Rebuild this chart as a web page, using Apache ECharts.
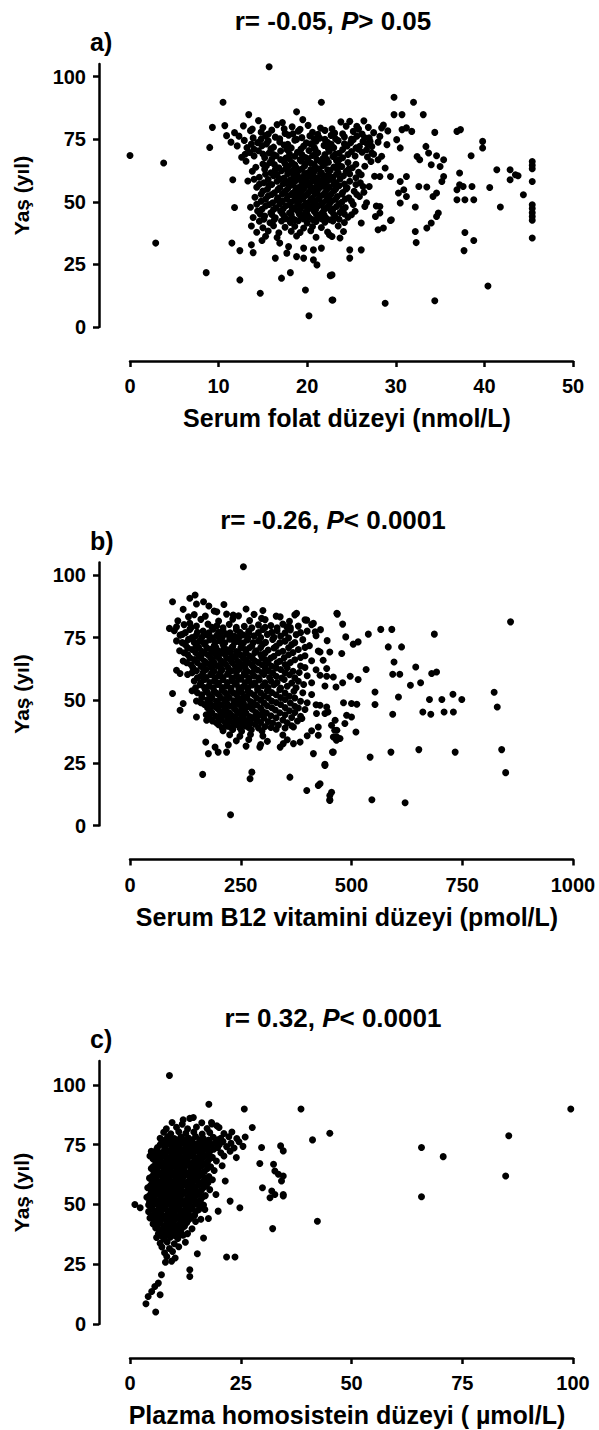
<!DOCTYPE html>
<html>
<head>
<meta charset="utf-8">
<script src="https://cdn.jsdelivr.net/npm/echarts@6/dist/echarts.min.js"></script>
<style>
html,body{margin:0;padding:0;background:#fff;}
#c{width:599px;height:1430px;}
</style>
</head>
<body>
<div id="c"></div>
<script>
// ---------- DATA ----------
const titlesA = ['r= -0.05, ', 'P', '> 0.05'];
const titlesB = ['r= -0.26, ', 'P', '< 0.0001'];
const titlesC = ['r= 0.32, ', 'P', '< 0.0001'];
const panelLetters = ['a)', 'b)', 'c)'];
const xNames = ['Serum folat düzeyi (nmol/L)', 'Serum B12 vitamini düzeyi (pmol/L)', 'Plazma homosistein düzeyi ( µmol/L)'];
const yName = 'Yaş (yıl)';
const yTicks = [0, 25, 50, 75, 100];
const xRanges = [[0, 50, 10], [0, 1000, 250], [0, 100, 25]];
const yMax = [105, 105, 110];

// Panel a: serum folate (nmol/L) vs age
const folatCore = [
[14.5,82.4],[17.2,81.6],[19.5,82.8],[23.8,81.9],[26.4,82.3],
[12.8,80.3],[15.0,79.6],[16.6,80.8],[18.3,79.9],[20.1,80.5],[21.5,79.4],[24.4,80.2],[26.9,79.7],[28.6,80.6],
[11.8,77.6],[13.6,78.4],[14.8,77.8],[16.0,78.6],[17.5,77.3],[19.0,78.2],[20.6,77.7],[22.0,78.5],[23.1,77.4],[25.2,78.1],[27.5,77.6],[29.1,78.3],
[12.3,76.2],[13.9,75.5],[15.3,76.4],[16.4,75.8],[17.9,76.6],[19.4,75.6],[20.3,76.3],[21.4,75.4],[22.7,76.5],[24.2,75.9],[25.6,76.2],[27.0,75.5],
[11.4,73.8],[12.9,74.5],[14.4,73.6],[15.6,74.3],[16.9,73.9],[18.6,74.6],[19.9,73.5],[21.0,74.2],[22.3,73.7],[23.5,74.4],[24.9,73.6],[26.3,74.1],[28.0,73.8],
[12.1,72.3],[13.2,71.6],[14.9,72.4],[16.2,71.8],[17.4,72.6],[18.2,71.5],[19.6,72.2],[20.8,71.7],[21.9,72.5],[23.0,71.6],[24.5,72.3],[25.5,71.5],[27.3,72.1],
[13.5,69.7],[14.5,70.4],[15.7,69.5],[17.0,70.3],[18.9,69.8],[20.2,70.5],[21.2,69.6],[22.5,70.2],[23.6,69.4],[25.0,70.1],[26.2,69.8],
[12.6,67.8],[14.0,68.3],[15.2,67.6],[16.5,68.4],[17.6,67.5],[18.6,68.2],[19.8,67.7],[20.6,68.5],[21.8,67.4],[22.9,68.1],[24.0,67.6],[25.4,68.3],[26.8,67.9],[28.4,68.2],
[13.1,66.2],[15.8,65.7],[17.3,66.4],[18.3,65.6],[19.3,66.3],[20.4,65.5],[21.5,66.1],[22.4,65.8],[23.3,66.5],[24.6,65.7],[27.2,66.1],
[14.2,63.8],[15.4,64.4],[16.8,63.6],[17.9,64.2],[18.8,63.5],[19.7,64.3],[20.9,63.7],[21.8,64.5],[23.0,63.9],[23.9,64.1],[25.1,63.6],[26.5,64.2],
[13.8,62.2],[15.9,61.6],[17.1,62.4],[18.1,61.8],[19.0,62.3],[20.0,61.5],[20.8,62.1],[21.6,61.7],[22.6,62.5],[23.5,61.6],[24.4,62.2],[25.8,61.8],
[14.6,59.8],[16.2,60.4],[17.4,59.5],[18.5,60.2],[19.3,59.7],[20.3,60.5],[21.1,59.6],[22.0,60.3],[22.9,59.8],[24.1,60.4],[25.5,59.6],[27.6,60.2],
[13.3,58.3],[15.1,57.6],[16.6,58.2],[17.8,57.5],[18.7,58.4],[19.6,57.8],[20.5,58.1],[21.4,57.4],[22.3,58.3],[23.2,57.7],[24.8,58.2],[26.0,57.6],
[14.3,55.8],[15.7,56.4],[16.9,55.6],[18.0,56.3],[19.0,55.7],[19.9,56.5],[20.7,55.5],[21.7,56.2],[22.5,55.8],[23.6,56.4],[24.5,55.6],[27.0,56.1],
[15.0,54.3],[16.3,53.6],[17.5,54.2],[18.4,53.5],[19.4,54.4],[20.2,53.8],[21.1,54.1],[22.0,53.6],[23.0,54.3],[24.0,53.7],[25.3,54.2],[26.4,53.8],
[14.1,51.8],[15.6,52.3],[16.7,51.6],[17.8,52.4],[18.8,51.7],[19.7,52.2],[20.6,51.5],[21.5,52.3],[22.4,51.8],[23.4,52.1],[24.7,51.6],
[14.8,50.2],[16.1,49.6],[17.2,50.4],[18.2,49.8],[19.1,50.3],[20.0,49.5],[20.9,50.1],[21.8,49.7],[22.8,50.4],[23.9,49.8],[25.0,50.2],[26.7,49.6],
[13.6,47.8],[15.3,48.3],[16.5,47.6],[17.6,48.4],[18.5,47.5],[19.5,48.2],[20.4,47.8],[21.3,48.5],[22.2,47.6],[23.3,48.1],[24.3,47.7],[27.8,48.3],
[14.4,46.3],[15.9,45.6],[17.0,46.2],[18.0,45.5],[18.9,46.4],[19.8,45.8],[20.8,46.1],[21.7,45.6],[22.7,46.3],[23.7,45.7],[25.4,46.2],
[13.9,43.7],[15.2,44.3],[16.4,43.6],[17.4,44.2],[18.3,43.5],[19.3,44.4],[20.2,43.8],[21.2,44.1],[22.1,43.6],[23.1,44.3],[24.6,43.8],
[14.6,42.2],[15.8,41.6],[17.1,42.3],[18.1,41.7],[19.0,42.4],[20.0,41.5],[21.0,42.1],[22.0,41.8],[22.9,42.3],[24.2,41.7],
[13.7,40.3],[15.0,39.6],[16.2,40.4],[17.5,39.8],[18.6,40.2],[19.6,39.5],[20.6,40.1],[21.6,39.7],[23.5,40.3],
[14.3,37.8],[15.6,38.3],[16.8,37.6],[18.2,38.2],[19.2,37.7],[20.4,38.4],[22.3,37.9],
[15.3,36.2],[16.6,35.7],[18.8,36.3],[21.0,35.8],[22.8,36.1],
[13.8,79.0],[17.4,79.1],[19.2,78.9],[22.8,79.1],[25.8,79.0],
[15.6,77.0],[18.4,77.1],[21.2,76.9],[24.0,77.1],[26.2,77.0],
[14.8,75.0],[16.9,75.1],[18.8,74.9],[20.8,75.1],[22.0,74.9],[23.2,75.1],[25.0,75.0],
[13.7,73.0],[15.4,73.1],[17.8,72.9],[20.4,73.1],[22.7,72.9],[24.2,73.1],[26.8,73.0],
[14.0,71.0],[15.9,71.1],[17.7,70.9],[19.3,71.1],[20.9,70.9],[22.4,71.1],[24.0,70.9],[25.8,71.0],
[13.0,69.0],[15.0,69.1],[16.2,68.9],[18.0,69.1],[19.4,68.9],[21.0,69.1],[22.0,68.9],[23.2,69.1],[24.6,68.9],[27.5,69.0],
[16.0,67.0],[17.0,66.9],[18.0,67.1],[19.2,66.8],[20.1,67.2],[21.1,66.9],[22.2,67.0],[23.6,66.8],
[15.0,65.1],[16.3,64.9],[17.5,65.2],[18.6,64.8],[19.8,65.1],[20.8,64.9],[22.0,65.2],[23.5,64.9],[25.5,65.0],
[15.2,63.0],[16.4,62.9],[17.6,63.2],[18.5,62.8],[19.4,63.1],[20.4,62.9],[21.3,63.2],[22.3,62.8],[23.4,63.0],[24.7,63.1],
[15.3,61.0],[16.6,60.9],[17.8,61.2],[18.8,60.8],[19.7,61.1],[20.6,60.9],[21.5,61.2],[22.4,60.8],[23.3,61.0],[24.8,61.1],
[14.0,59.0],[15.6,58.9],[16.9,59.2],[18.1,58.8],[19.0,59.1],[19.9,58.9],[20.8,59.2],[21.7,58.8],[22.6,59.0],[23.7,59.1],
[14.6,57.0],[16.0,56.9],[17.3,57.2],[18.4,56.8],[19.4,57.1],[20.2,56.9],[21.1,57.2],[22.0,56.8],[23.0,57.0],[24.2,57.1],[25.5,56.9],
[15.5,55.0],[16.7,54.9],[17.8,55.2],[18.7,54.8],[19.6,55.1],[20.4,54.9],[21.3,55.2],[22.2,54.8],[23.2,55.0],[24.4,55.1],
[14.8,53.0],[16.0,52.9],[17.2,53.2],[18.2,52.8],[19.1,53.1],[20.0,52.9],[20.9,53.2],[21.8,52.8],[22.7,53.0],[23.9,53.1],[25.6,52.9],
[15.3,51.0],[16.6,50.9],[17.7,51.2],[18.6,50.8],[19.5,51.1],[20.4,50.9],[21.3,51.2],[22.2,50.8],[23.2,51.0],[24.3,51.1],
[14.3,49.0],[15.7,48.9],[16.9,49.2],[18.0,48.8],[18.9,49.1],[19.8,48.9],[20.7,49.2],[21.6,48.8],[22.5,49.0],[23.6,49.1],[25.2,48.9],
[14.9,47.0],[16.2,46.9],[17.3,47.2],[18.3,46.8],[19.2,47.1],[20.1,46.9],[21.0,47.2],[21.9,46.8],[22.9,47.0],[24.0,47.1],
[14.7,45.0],[16.0,44.9],[17.2,45.2],[18.2,44.8],[19.1,45.1],[20.0,44.9],[21.0,45.2],[21.9,44.8],[23.0,45.0],[24.2,45.1],
[15.1,43.0],[16.3,42.9],[17.6,43.2],[18.6,42.8],[19.6,43.1],[20.6,42.9],[21.6,43.2],[22.6,42.8],[23.6,43.0]
];
const folatOuter = [
[0,68.5],[3.8,65.5],[2.9,33.5],[8.6,21.7],[10.5,89.7],[15.7,103.9],[21.6,89.7],[18.8,85.9],[9.0,71.7],[9.3,79.7],
[10.7,80.4],[10.9,76.4],[13.4,84.8],[11.6,58.8],[11.8,47.7],[11.5,33.5],[12.4,30.5],[12.4,18.8],[14.7,13.5],[20.2,4.5],
[19.8,14.8],[17.1,19.5],[18.1,21.7],[22.8,20.8],[22.9,10.8],[22.5,36.8],[13.7,32.8],[13.9,29.7],[14.9,34.5],[16.4,27.5],
[16.9,33.5],[17.9,32.1],[18.8,28.1],[19.6,27.5],[20.7,26.8],[21.1,24.8],[19.6,31.5],[20.7,30.8],[21.6,31.5],[17.7,29.5],
[29.8,91.7],[32.0,89.7],[29.8,84.8],[30.7,84.8],[33.1,84.8],[34.4,77.7],[36.9,78.1],[37.3,78.8],[39.8,74.1],[39.8,71.5],
[38.5,68.4],[33.4,72.1],[32.4,68.1],[33.7,69.5],[34.6,68.4],[35.4,66.8],[32.7,66.8],[34.0,64.8],[35.0,64.1],[37.2,61.5],
[41.4,62.8],[42.9,62.8],[43.5,60.8],[42.9,58.8],[43.8,60.4],[45.4,66.1],[45.4,64.6],[45.4,63.2],[45.4,58.1],[45.4,48.8],
[45.4,47.3],[45.4,45.6],[45.4,44.1],[45.4,42.6],[45.4,35.5],[44.4,52.8],[41.8,47.9],[40.6,55.7],[37.2,56.8],[37.6,56.1],
[38.6,56.1],[36.9,54.8],[36.9,50.8],[37.8,50.8],[38.8,50.8],[37.8,37.7],[38.8,34.5],[37.7,30.5],[40.4,16.4],[34.4,10.5],
[28.8,9.5],[22.8,10.8],[22.6,20.5],[24.8,30.8],[26.1,30.8],[24.8,27.5],[23.7,35.5],[24.1,38.1],[28.0,38.8],[28.6,39.5],
[29.5,42.8],[32.2,38.1],[32.3,33.7],[33.5,39.5],[34.0,41.5],[34.6,44.1],[34.8,45.5],[32.2,47.9],[32.6,56.1],[33.5,55.9],
[34.2,52.1],[34.6,53.5],[35.4,60.1],[35.2,58.1],[29.4,60.1],[28.2,60.1],[30.5,58.1],[31.2,60.1],[30.3,53.5],[30.9,54.8],
[31.2,52.1],[30.5,49.5],[28.2,48.1],[28.2,45.5],[27.7,44.1],[29.4,42.5],[26.1,41.5],[25.0,44.8],[26.5,48.1],[28.4,79.5],
[30.7,78.8],[31.2,79.5],[31.8,78.1],[30.1,74.8],[30.5,71.5],[29.0,72.8],[28.2,76.1],[27.1,74.1],[26.5,75.5],[27.3,69.5],
[28.0,66.8],[28.8,63.5],[25.9,72.1],[25.2,74.8],[26.7,70.8],[25.6,80.1],[24.8,82.1],[26.1,60.8],[26.3,56.1],[25.9,52.1]
];

// Panel b: serum B12 (pmol/L) vs age
const b12Core = [
[150,88.4],[178,87.6],[212,88.2],
[120,86.3],[190,85.6],[262,86.4],[300,85.8],
[145,84.2],[170,83.6],[218,84.4],[245,83.7],[280,84.3],[330,83.6],[372,84.1],
[108,81.7],[160,82.3],[200,81.6],[232,82.4],[270,81.8],[305,82.2],[360,81.5],[395,82.1],
[122,80.2],[150,79.6],[176,80.4],[196,79.7],[224,80.3],[258,79.5],[290,80.1],[318,79.8],[345,80.4],[380,79.6],[410,80.2],
[100,77.8],[135,78.3],[165,77.6],[188,78.4],[210,77.7],[240,78.2],[268,77.5],[300,78.3],[332,77.8],[362,78.1],[400,77.6],[430,78.2],
[118,76.3],[148,75.6],[172,76.2],[196,75.8],[218,76.4],[236,75.5],[255,76.1],[280,75.7],[310,76.3],[340,75.6],[375,76.2],[420,75.8],
[105,73.7],[132,74.3],[158,73.6],[180,74.2],[202,73.8],[225,74.4],[245,73.5],[265,74.1],[290,73.7],[322,74.3],[350,73.6],[390,74.2],[445,73.8],
[125,72.2],[150,71.6],[168,72.4],[190,71.8],[210,72.3],[232,71.5],[252,72.1],[275,71.7],[300,72.4],[330,71.6],[365,72.2],[405,71.8],
[112,69.8],[140,70.3],[162,69.6],[182,70.4],[200,69.7],[220,70.2],[240,69.5],[260,70.3],[285,69.8],[312,70.1],[345,69.6],[380,70.3],[425,69.7],
[130,68.3],[155,67.6],[176,68.2],[195,67.8],[214,68.4],[234,67.5],[250,68.1],[270,67.7],[295,68.3],[325,67.6],[358,68.2],[395,67.8],
[120,65.7],[145,66.3],[168,65.6],[186,66.2],[205,65.8],[226,66.4],[244,65.5],[262,66.1],[282,65.7],[305,66.3],[338,65.6],[372,66.2],[410,65.8],
[138,64.2],[160,63.6],[180,64.3],[198,63.7],[216,64.4],[238,63.5],[255,64.1],[276,63.8],[298,64.2],[320,63.6],[350,64.3],[385,63.7],
[150,61.8],[172,62.3],[190,61.6],[208,62.2],[228,61.7],[246,62.4],[265,61.5],[288,62.1],[312,61.8],[340,62.3],[368,61.6],[420,62.2],
[130,60.3],[160,59.6],[182,60.2],[200,59.8],[220,60.4],[240,59.5],[258,60.1],[280,59.7],[302,60.3],[330,59.6],[360,60.2],[400,59.8],
[145,57.7],[168,58.3],[190,57.6],[210,58.2],[230,57.8],[250,58.4],[270,57.5],[292,58.1],[318,57.7],[348,58.3],[380,57.6],
[158,56.2],[178,55.6],[198,56.3],[218,55.7],[238,56.4],[256,55.5],[276,56.1],[300,55.8],[325,56.2],[355,55.6],[392,56.3],[440,55.7],
[140,53.8],[170,54.3],[190,53.6],[208,54.2],[228,53.7],[246,54.4],[266,53.5],[288,54.1],[310,53.8],[338,54.2],[370,53.6],
[162,52.2],[182,51.6],[200,52.3],[220,51.7],[240,52.4],[258,51.5],[280,52.1],[302,51.8],[330,52.2],[360,51.6],[410,52.3],
[150,49.7],[175,50.3],[195,49.6],[214,50.2],[234,49.8],[252,50.4],[272,49.5],[295,50.1],[320,49.7],[350,50.3],[385,49.6],
[168,48.3],[188,47.6],[206,48.2],[226,47.7],[246,48.4],[264,47.5],[286,48.1],[310,47.8],[340,48.3],[372,47.6],[420,48.2],
[180,45.8],[200,46.3],[218,45.6],[238,46.2],[256,45.7],[276,46.4],[300,45.5],[328,46.1],[360,45.8],[395,46.3],
[172,44.2],[194,43.6],[212,44.3],[232,43.7],[250,44.4],[270,43.5],[292,44.1],[318,43.8],[350,44.2],[385,43.6],
[186,41.7],[206,42.3],[226,41.6],[244,42.2],[264,41.8],[286,42.4],[312,41.5],[345,42.1],[378,41.7],
[200,40.2],[220,39.6],[240,40.3],[260,39.7],[282,40.4],[305,39.5],[335,40.1],[365,39.8],
[210,37.8],[232,38.3],[252,37.6],[274,38.2],[298,37.7],[330,38.4],[410,37.8],
[225,36.2],[248,35.6],[272,36.3],[300,35.7],[345,36.1],[400,35.8],
[240,33.8],[268,34.3],[310,33.6],[355,34.2],
[222,32.2],[262,31.7],[295,32.3],
[138,79.0],[185,79.1],[210,78.9],[240,79.1],[275,78.9],[305,79.1],[332,78.9],[362,79.0],
[125,77.0],[152,77.1],[178,76.9],[200,77.1],[226,76.9],[248,77.1],[268,76.9],[290,77.0],[320,77.1],[350,76.9],[385,77.0],
[140,75.0],[162,75.1],[186,74.9],[208,75.1],[228,74.9],[246,75.1],[266,74.9],[295,75.0],[325,75.1],[358,74.9],
[118,73.0],[145,73.1],[170,72.9],[192,73.1],[214,72.9],[236,73.1],[256,72.9],[278,73.0],[306,73.1],[338,72.9],[372,73.0],
[130,71.0],[155,71.1],[174,70.9],[194,71.1],[212,70.9],[230,71.1],[250,70.9],[270,71.0],[295,71.1],[325,70.9],[358,71.0],[395,71.1],
[122,69.0],[148,69.1],[168,68.9],[188,69.1],[206,68.9],[226,69.1],[244,68.9],[262,69.0],[282,69.1],[305,68.9],[335,69.0],[368,69.1],
[135,67.0],[160,67.1],[182,66.9],[200,67.1],[218,66.9],[238,67.1],[256,66.9],[276,67.0],[298,67.1],[318,66.9],[348,67.0],[385,67.1],
[128,65.0],[152,65.1],[172,64.9],[190,65.1],[210,64.9],[230,65.1],[248,64.9],[268,65.0],[290,65.1],[312,64.9],[332,65.0],[362,65.1],
[142,63.0],[165,63.1],[185,62.9],[204,63.1],[222,62.9],[242,63.1],[260,62.9],[280,63.0],[305,63.1],[330,62.9],[355,63.0],[395,63.1],
[140,61.0],[165,61.1],[185,60.9],[204,61.1],[222,60.9],[240,61.1],[258,60.9],[276,61.0],[298,61.1],[322,60.9],[350,61.0],[382,61.1],
[152,59.0],[172,59.1],[192,58.9],[210,59.1],[230,58.9],[248,59.1],[268,58.9],[290,59.0],[315,59.1],[342,58.9],[372,59.0],
[160,57.0],[180,57.1],[200,56.9],[220,57.1],[240,56.9],[260,57.1],[282,56.9],[305,57.0],[332,57.1],[365,56.9],[410,57.0],
[148,55.0],[168,55.1],[188,54.9],[208,55.1],[228,54.9],[246,55.1],[266,54.9],[288,55.0],[312,55.1],[340,54.9],[375,55.0],
[152,53.0],[175,53.1],[195,52.9],[214,53.1],[234,52.9],[252,53.1],[272,52.9],[295,53.0],[320,53.1],[350,52.9],[390,53.0],
[162,51.0],[185,51.1],[205,50.9],[224,51.1],[244,50.9],[264,51.1],[286,50.9],[312,51.0],[340,51.1],[372,50.9],
[160,49.0],[180,49.1],[198,48.9],[218,49.1],[238,48.9],[256,49.1],[278,48.9],[302,49.0],[330,49.1],[362,48.9],[400,49.0],
[175,47.0],[195,47.1],[214,46.9],[234,47.1],[252,46.9],[272,47.1],[295,46.9],[320,47.0],[350,47.1],[380,46.9],
[185,45.0],[205,45.1],[225,44.9],[244,45.1],[262,44.9],[284,45.1],[308,44.9],[338,45.0],[372,45.1],
[180,43.0],[200,43.1],[220,42.9],[238,43.1],[256,42.9],[278,43.1],[302,42.9],[330,43.0],[365,43.1],
[195,41.0],[215,41.1],[234,40.9],[252,41.1],[272,40.9],[295,41.1],[322,40.9],[355,41.0],
[208,39.0],[228,39.1],[248,38.9],[268,39.1],[290,38.9],[318,39.1],[350,38.9]
];
const b12Outer = [
[256,103.3],[96,89.3],[135,90.7],[147,92],[166,89.3],[196,85.3],[233,84],[132,83.3],[135,80.7],[89,78.7],
[105,79.3],[113,76],[124,72.7],[105,62],[113,60.7],[96,52.7],[113,46],[120,48.7],[150,43.3],[173,42],
[171,33.3],[192,31.3],[177,28.7],[199,29.3],[218,29.3],[164,20.4],[275,21.3],[271,18.7],[227,4.3],[361,19.3],
[399,14],[425,16],[451,12],[451,10],[339,31.3],[346,32.7],[369,32.7],[384,33.3],[293,31.3],[414,28.7],
[440,24],[459,29.3],[369,39.3],[388,42.7],[425,39.3],[425,36],[421,44.7],[447,45.3],[463,42],[467,38],
[467,35.3],[376,84.7],[414,80.7],[399,82],[418,77.3],[297,82.7],[339,83.3],[354,79.3],[467,84.7],
[859,81.3],[468,84.4],[480,80.4],[538,76.4],[566,78.3],[591,78.3],[687,76.4],[583,71.3],[613,71.3],[487,75.3],
[504,72.4],[515,73.3],[429,69.3],[451,69.3],[478,68.7],[436,66],[444,62.7],[429,60],[444,59.6],[459,59.3],
[533,62.3],[596,65.3],[593,60.4],[609,60.4],[645,63.3],[681,60.7],[692,61.3],[497,59.6],[515,58.3],[465,55.3],
[480,57],[633,56],[656,57],[553,53.3],[606,51.3],[676,50.3],[704,50.3],[729,52.4],[749,50.3],[822,53.2],
[829,47.3],[553,48.3],[593,44.4],[661,45.3],[679,44.4],[709,45.3],[730,45.3],[482,49],[500,48.7],[512,48.4],
[489,44],[500,43.3],[485,40.7],[455,40],[462,38],[459,35.3],[474,34.7],[466,34],[510,37.3],[440,44.7],
[444,47.3],[429,48],[457,29.3],[542,27.3],[589,29.3],[652,30.3],[734,29.3],[839,30.3],[848,21.1],[440,24.4],
[455,13.3],[451,10.3],[546,10.3],[621,9.1],[429,16.7]
];

// Panel c: plasma homocysteine (µmol/L) vs age
const hcyCore = [
[9.5,84.3],[11.8,83.6],[16.2,84.2],[18.5,83.7],
[8.2,81.7],[10.5,82.3],[13.0,81.6],[15.0,82.4],[17.4,81.8],[20.1,82.2],
[7.6,80.2],[9.2,79.6],[11.0,80.4],[12.6,79.8],[14.4,80.3],[16.3,79.5],[18.0,80.1],[21.2,79.7],[23.0,80.3],
[6.8,77.7],[8.5,78.3],[10.0,77.6],[11.5,78.2],[13.2,77.8],[14.8,78.4],[16.6,77.5],[18.8,78.1],[20.5,77.7],[22.3,78.3],[24.1,77.6],[26.0,78.2],
[7.2,76.3],[8.9,75.6],[10.4,76.2],[12.0,75.8],[13.6,76.4],[15.2,75.5],[17.0,76.1],[19.2,75.7],[21.0,76.3],[22.8,75.6],[24.6,76.2],
[6.2,73.8],[7.9,74.3],[9.5,73.6],[11.0,74.2],[12.5,73.7],[14.0,74.4],[15.6,73.5],[17.4,74.1],[19.8,73.8],[21.8,74.2],[23.5,73.6],[25.5,74.3],
[4.8,72.2],[7.0,71.6],[8.6,72.3],[10.1,71.7],[11.6,72.4],[13.1,71.5],[14.6,72.1],[16.2,71.8],[18.0,72.2],[20.5,71.6],[22.6,72.3],
[5.8,69.7],[7.5,70.3],[9.0,69.6],[10.6,70.2],[12.2,69.8],[13.7,70.4],[15.1,69.5],[16.8,70.1],[18.6,69.7],[21.2,70.3],[24.0,69.6],
[6.4,68.3],[8.0,67.6],[9.6,68.2],[11.1,67.7],[12.7,68.4],[14.2,67.5],[15.8,68.1],[17.5,67.8],[19.5,68.2],
[5.2,65.8],[6.9,66.3],[8.4,65.6],[9.9,66.2],[11.4,65.7],[12.9,66.4],[14.5,65.5],[16.2,66.1],[18.2,65.8],[20.8,66.2],
[5.9,64.2],[7.4,63.6],[8.9,64.3],[10.4,63.7],[11.9,64.4],[13.4,63.5],[15.0,64.1],[16.8,63.8],[19.0,64.2],
[5.0,61.7],[6.6,62.3],[8.1,61.6],[9.6,62.2],[11.1,61.8],[12.6,62.4],[14.1,61.5],[15.8,62.1],[17.8,61.7],
[5.6,60.3],[7.1,59.6],[8.6,60.2],[10.1,59.8],[11.6,60.4],[13.1,59.5],[14.7,60.1],[16.5,59.7],[18.6,60.3],[21.5,59.8],
[4.6,57.8],[6.2,58.3],[7.7,57.6],[9.2,58.2],[10.7,57.7],[12.2,58.4],[13.8,57.5],[15.4,58.1],[17.2,57.8],
[5.3,56.2],[6.8,55.6],[8.3,56.3],[9.8,55.7],[11.3,56.4],[12.8,55.5],[14.4,56.1],[16.1,55.8],[18.0,56.2],
[4.4,53.7],[5.9,54.3],[7.4,53.6],[8.9,54.2],[10.4,53.8],[11.9,54.4],[13.5,53.5],[15.2,54.1],[17.0,53.7],[19.4,54.2],
[5.0,52.3],[6.5,51.6],[8.0,52.2],[9.5,51.8],[11.0,52.4],[12.5,51.5],[14.1,52.1],[15.9,51.7],
[4.2,49.8],[5.7,50.3],[7.2,49.6],[8.7,50.2],[10.2,49.7],[11.7,50.4],[13.2,49.5],[14.8,50.1],[16.6,49.8],
[4.8,48.2],[6.3,47.6],[7.8,48.3],[9.3,47.7],[10.8,48.4],[12.3,47.5],[13.9,48.1],[15.5,47.8],
[5.4,45.7],[6.9,46.3],[8.4,45.6],[9.9,46.2],[11.4,45.8],[12.9,46.4],[14.6,45.5],
[4.5,44.3],[6.0,43.6],[7.5,44.2],[9.0,43.7],[10.5,44.4],[12.0,43.5],[13.6,44.1],[16.0,43.8],
[5.2,41.8],[6.7,42.3],[8.2,41.6],[9.7,42.2],[11.2,41.7],[12.8,42.4],
[5.8,40.2],[7.3,39.6],[8.8,40.3],[10.3,39.7],[11.8,40.4],[14.0,39.8],
[6.4,37.7],[7.9,38.3],[9.4,37.6],[11.0,38.2],[13.0,37.8],
[6.0,36.2],[7.6,35.6],[9.1,36.3],[10.8,35.8],
[6.8,33.8],[8.4,34.3],[10.0,33.6],[12.5,34.2],
[7.2,32.2],[8.9,31.6],[11.0,32.3],
[7.8,29.8],[9.6,30.3],[8.3,28.2],[10.2,27.6],[8.0,25.8],[9.4,26.3],
[8.0,77.0],[9.4,77.1],[10.8,76.9],[12.4,77.1],[14.0,76.9],[15.8,77.1],[17.8,76.9],[19.8,77.0],
[6.8,75.0],[8.2,75.1],[9.7,74.9],[11.2,75.1],[12.8,74.9],[14.4,75.1],[16.2,74.9],[18.2,75.0],[20.2,75.1],
[6.0,73.0],[7.8,73.1],[9.2,72.9],[10.6,73.1],[12.0,72.9],[13.5,73.1],[15.0,72.9],[16.8,73.0],[18.9,73.1],
[6.4,71.0],[8.0,71.1],[9.5,70.9],[11.0,71.1],[12.6,70.9],[14.1,71.1],[15.8,70.9],[17.6,71.0],
[5.2,69.0],[6.9,69.1],[8.4,68.9],[9.9,69.1],[11.4,68.9],[13.0,69.1],[14.6,68.9],[16.2,69.0],[18.0,69.1],
[5.8,67.0],[7.3,67.1],[8.9,66.9],[10.4,67.1],[11.9,66.9],[13.4,67.1],[15.0,66.9],[16.8,67.0],
[4.8,65.0],[6.2,65.1],[7.7,64.9],[9.2,65.1],[10.7,64.9],[12.2,65.1],[13.8,64.9],[15.5,65.0],[17.5,65.1],
[5.4,63.0],[6.9,63.1],[8.4,62.9],[9.9,63.1],[11.4,62.9],[12.9,63.1],[14.5,62.9],[16.2,63.0],
[4.4,61.0],[5.9,61.1],[7.4,60.9],[8.9,61.1],[10.4,60.9],[11.9,61.1],[13.5,60.9],[15.1,61.0],[16.9,61.1],
[5.0,59.0],[6.5,59.1],[8.0,58.9],[9.5,59.1],[11.0,58.9],[12.5,59.1],[14.0,58.9],[15.8,59.0],[17.6,59.1],
[4.0,57.0],[5.6,57.1],[7.1,56.9],[8.6,57.1],[10.1,56.9],[11.6,57.1],[13.1,56.9],[14.8,57.0],[16.6,57.1],
[4.8,55.0],[6.3,55.1],[7.8,54.9],[9.3,55.1],[10.8,54.9],[12.3,55.1],[13.9,54.9],[15.6,55.0],
[3.8,53.0],[5.4,53.1],[6.9,52.9],[8.4,53.1],[9.9,52.9],[11.4,53.1],[13.0,52.9],[14.6,53.0],[16.4,53.1],
[4.4,51.0],[5.9,51.1],[7.4,50.9],[8.9,51.1],[10.4,50.9],[11.9,51.1],[13.5,50.9],[15.2,51.0],
[5.0,49.0],[6.5,49.1],[8.0,48.9],[9.5,49.1],[11.0,48.9],[12.5,49.1],[14.0,48.9],[15.8,49.0],
[4.2,47.0],[5.6,47.1],[7.1,46.9],[8.6,47.1],[10.1,46.9],[11.6,47.1],[13.2,46.9],[14.8,47.0],
[4.8,45.0],[6.3,45.1],[7.8,44.9],[9.3,45.1],[10.8,44.9],[12.4,45.1],[13.9,44.9],
[5.4,43.0],[6.9,43.1],[8.4,42.9],[9.9,43.1],[11.4,42.9],[13.0,43.1],[14.8,42.9],
[6.2,41.0],[7.7,41.1],[9.2,40.9],[10.7,41.1],[12.3,40.9],
[6.8,39.0],[8.3,39.1],[9.8,38.9],[11.5,39.1],
[7.0,37.0],[8.6,37.1],[10.2,36.9],[12.0,37.1]
];
const hcyOuter = [
[8.9,103.9],[17.8,91.9],[25.8,89.9],[27.6,82.2],[12.0,85.4],[13.5,86.0],[14.3,86.4],[18.4,84.3],[19.6,82.9],[29.7,73.8],
[34.0,74.5],[34.6,72.4],[29.3,67.1],[32.4,66.8],[32.7,64.0],[33.5,62.6],[34.2,59.8],[29.9,57.0],[32.0,55.6],[32.7,54.2],
[34.6,54.2],[31.6,52.8],[32.2,39.9],[21.8,28.0],[23.7,28.0],[1.1,50.0],[2.3,48.6],[4.5,70.3],[5.6,71.7],[24.8,48.6],
[22.6,51.4],[19.9,47.2],[16.9,47.9],[17.7,44.1],[16.6,36.0],[15.2,29.4],[13.5,22.7],[13.5,19.9],[7.1,20.6],[6.4,17.1],
[5.6,15.7],[4.9,13.6],[4.1,11.5],[5.8,5.0],[3.6,8.5],[6.8,12.2],[38.6,89.9],[41.2,77.0],[45.1,79.8],[42.3,43.0],
[99.5,89.9],[85.5,78.7],[84.8,61.9],[65.8,73.8],[70.7,70.0],[65.8,53.2],[34.6,61.9],[34.6,53.5]
];

// ---------- CHART ----------
const FONT = '"Liberation Sans", Arial, Helvetica, sans-serif';
const panelData = [folatCore.concat(folatOuter), b12Core.concat(b12Outer), hcyCore.concat(hcyOuter)];
const titleParts = [titlesA, titlesB, titlesC];
const PITCH = 498.5, TOP0 = 64, LEFT = 130, W = 443, H = 263;

const grids = [], xAxes = [], yAxes = [], series = [], graphics = [];
for (let i = 0; i < 3; i++) {
  const top = TOP0 + PITCH * i;
  grids.push({ left: LEFT, top: top, width: W, height: H, containLabel: false, outerBoundsMode: 'none' });
  const xr = xRanges[i];
  xAxes.push({
    gridIndex: i, type: 'value', min: xr[0], max: xr[1], interval: xr[2], offset: 34,
    axisLine: { show: true, onZero: false, lineStyle: { color: '#000', width: 2.5 } },
    axisTick: { show: true, length: 6, lineStyle: { color: '#000', width: 2.5 } },
    axisLabel: { color: '#000', fontSize: 20, fontWeight: 'bold', fontFamily: FONT, margin: 15,
      formatter: function (v) { return String(v); } },
    splitLine: { show: false }
  });
  yAxes.push({
    gridIndex: i, type: 'value', min: 0, max: yMax[i], offset: 31,
    axisLine: { show: true, onZero: false, lineStyle: { color: '#000', width: 2.5 } },
    axisTick: { show: true, length: 6, customValues: yTicks, lineStyle: { color: '#000', width: 2.5 } },
    axisLabel: { color: '#000', fontSize: 20, fontWeight: 'bold', fontFamily: FONT, margin: 13, customValues: yTicks },
    splitLine: { show: false }
  });
  series.push({
    type: 'scatter', xAxisIndex: i, yAxisIndex: i, data: panelData[i],
    symbol: 'circle', symbolSize: 7, itemStyle: { color: '#000', opacity: 1 },
    emphasis: { disabled: true }, silent: true
  });
  const tp = titleParts[i];
  graphics.push({
    type: 'text', x: 333, y: top - 43,
    style: {
      text: '{n|' + tp[0] + '}{p|' + tp[1] + '}{n|' + tp[2] + '}',
      rich: {
        n: { fontSize: 26, fontWeight: 'bold', fontFamily: FONT, fill: '#000', color: '#000' },
        p: { fontSize: 26, fontWeight: 'bold', fontStyle: 'italic', fontFamily: FONT, fill: '#000', color: '#000' }
      },
      align: 'center', verticalAlign: 'middle', textAlign: 'center', textVerticalAlign: 'middle'
    }
  });
  graphics.push({
    type: 'text', x: 90, y: top - 22,
    style: { text: panelLetters[i], fontSize: 25, fontWeight: 'bold', fontFamily: FONT, fill: '#000',
      align: 'left', verticalAlign: 'middle', textAlign: 'left', textVerticalAlign: 'middle' }
  });
  graphics.push({
    type: 'text', x: 21, y: top + H / 2, rotation: Math.PI / 2,
    style: { text: yName, fontSize: 21, fontWeight: 'bold', fontFamily: FONT, fill: '#000',
      align: 'center', verticalAlign: 'middle', textAlign: 'center', textVerticalAlign: 'middle' }
  });
  graphics.push({
    type: 'text', x: 347, y: top + H + 91,
    style: { text: xNames[i], fontSize: 25, fontWeight: 'bold', fontFamily: FONT, fill: '#000',
      align: 'center', verticalAlign: 'middle', textAlign: 'center', textVerticalAlign: 'middle' }
  });
}

const chart = echarts.init(document.getElementById('c'), null, { renderer: 'svg' });
chart.setOption({
  animation: false,
  backgroundColor: '#fff',
  grid: grids, xAxis: xAxes, yAxis: yAxes, series: series,
  graphic: graphics
});
</script>
</body>
</html>
